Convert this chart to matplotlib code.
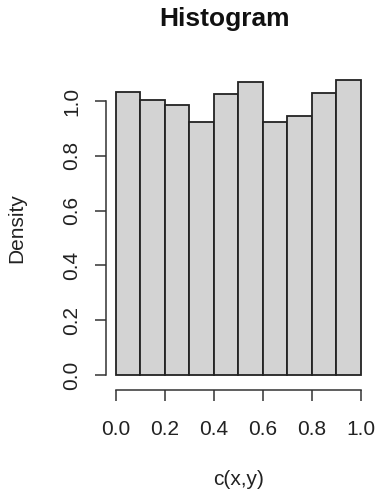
import numpy as np
import matplotlib
matplotlib.use("Agg")
import matplotlib.pyplot as plt

# Histogram breaks and densities
breaks = [0.0, 0.1, 0.2, 0.3, 0.4, 0.5, 0.6, 0.7, 0.8, 0.9, 1.0]
density = [1.034, 1.005, 0.985, 0.925, 1.026, 1.070, 0.925, 0.945, 1.029, 1.075]
xticks = [0.0, 0.2, 0.4, 0.6, 0.8, 1.0]
yticks = [0.0, 0.2, 0.4, 0.6, 0.8, 1.0]

plt.rcParams['font.family'] = ['Liberation Sans', 'DejaVu Sans']

fig = plt.figure(figsize=(3.78, 4.94), dpi=100)
ax = fig.add_axes([0.2804, 0.217, 0.6996, 0.644])

lefts = np.array(breaks[:-1])
widths = np.diff(breaks)
ax.bar(lefts, density, width=widths, align='edge',
       color='#d3d3d3', edgecolor='#222222', linewidth=1.3)

ax.set_xlim(-0.04, 1.04)
ax.set_ylim(-0.043, 1.118)

for s in ['top', 'right']:
    ax.spines[s].set_visible(False)
ax.spines['left'].set_bounds(0, 1)
ax.spines['bottom'].set_bounds(0, 1)
ax.spines['bottom'].set_position(('outward', 2))
for s in ['left', 'bottom']:
    ax.spines[s].set_color('#333333')
    ax.spines[s].set_linewidth(1.1)

ax.set_xticks(xticks)
ax.set_xticklabels([f"{v:.1f}" for v in xticks])
ax.set_yticks(yticks)
ax.set_yticklabels([f"{v:.1f}" for v in yticks], rotation=90, va='center')
ax.tick_params(length=8, width=1.1, color='#333333', labelsize=15,
               labelcolor='#222222')
ax.tick_params(axis='x', pad=14)
ax.tick_params(axis='y', pad=10)

ax.set_xlabel('c(x,y)', fontsize=15, color='#222222', labelpad=22)
ax.set_ylabel('Density', fontsize=15, color='#222222', labelpad=26)
fig.text(0.595, 0.962, 'Histogram', ha='center', va='center',
         fontsize=19, fontweight='bold', color='#111111')

plt.savefig('out.png', dpi=100)
